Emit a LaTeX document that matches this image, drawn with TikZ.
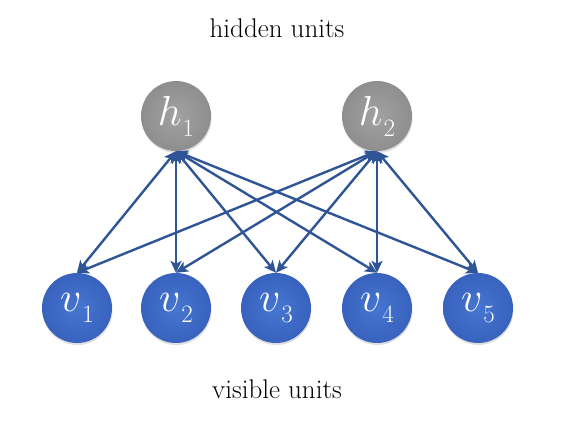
\RequirePackage{fix-cm}
\documentclass[tikz,border=0pt]{standalone}
\usetikzlibrary{arrows.meta,shadows}
\definecolor{arrowblue}{HTML}{2F5597}
\definecolor{vin}{HTML}{4676D0}
\definecolor{vout}{HTML}{3862BE}
\definecolor{hin}{HTML}{A2A2A2}
\definecolor{hout}{HTML}{8E8E8E}
\newcommand{\unitlab}[2]{\fontsize{42}{46}\selectfont$#1\kern1pt\lower11pt\hbox{\fontsize{25}{25}\selectfont #2}$}
\tikzset{
  unit/.style={circle, minimum size=70pt, inner sep=0pt, text=white,
    drop shadow={shadow xshift=0.5pt, shadow yshift=-2pt, opacity=0.25}},
  hunit/.style={unit, shading=radial, inner color=hin, outer color=hout},
  vunit/.style={unit, shading=radial, inner color=vin, outer color=vout},
  conn/.style={draw=arrowblue, line width=2.4pt,
    {Stealth[length=12pt,width=11pt,inset=3pt]}-{Stealth[length=12pt,width=11pt,inset=3pt]}},
  caption/.style={font=\fontsize{27}{30}\selectfont, text=black, inner sep=0pt, anchor=base}
}
\begin{document}
\begin{tikzpicture}[x=1pt,y=-1pt]
\useasboundingbox (0,0) rectangle (588,421);
\fill[white] (0,0) rectangle (588,421);
\node[caption] (ht) at (277,37) {hidden units};
\node[caption] (vt) at (277,398) {visible units};
\node[hunit] (h1) at (176,116) {\unitlab{h}{1}};
\node[hunit] (h2) at (377,116) {\unitlab{h}{2}};
\node[vunit] (v1) at (77,308) {\unitlab{v}{1}};
\node[vunit] (v2) at (176,308) {\unitlab{v}{2}};
\node[vunit] (v3) at (276,308) {\unitlab{v}{3}};
\node[vunit] (v4) at (377,308) {\unitlab{v}{4}};
\node[vunit] (v5) at (478,308) {\unitlab{v}{5}};
\foreach \h in {h1,h2}
  \foreach \v in {v1,v2,v3,v4,v5}
    \draw[conn] (\h.south) -- (\v.north);
\end{tikzpicture}
\end{document}
